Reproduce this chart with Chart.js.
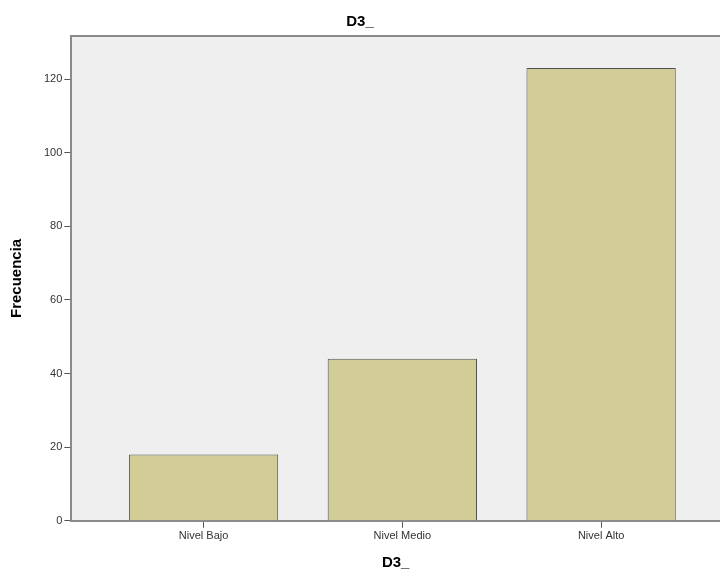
<!DOCTYPE html>
<html>
<head>
<meta charset="utf-8">
<script src="https://cdn.jsdelivr.net/npm/chart.js@4.4.1/dist/chart.umd.min.js"></script>
<style>
  html, body { margin: 0; padding: 0; background: #ffffff; overflow: hidden; }
  #wrap { width: 720px; height: 575px; }
</style>
</head>
<body>
<div id="wrap"><canvas id="chart" width="720" height="575"></canvas></div>
<script>
// Chart data
const categories = ['Nivel Bajo', 'Nivel Medio', 'Nivel Alto'];
const frecuencias = [18, 44, 123];
const chartTitle = 'D3_';
const xTitle = 'D3_';
const yTitle = 'Frecuencia';

const FONT = "'Liberation Sans', Arial, sans-serif";
const AXIS_GREY = '#8a8a8a';

// grey plot background + top border, like SPSS output
const plotBackground = {
    id: 'plotBackground',
    beforeDraw(chart) {
        const { ctx, chartArea } = chart;
        ctx.save();
        ctx.fillStyle = '#efefef';
        ctx.fillRect(chartArea.left, chartArea.top, chartArea.right - chartArea.left, chartArea.bottom - chartArea.top);
        ctx.strokeStyle = AXIS_GREY;
        ctx.lineWidth = 2;
        ctx.beginPath();
        ctx.moveTo(chartArea.left - 1, chartArea.top);
        ctx.lineTo(chartArea.right, chartArea.top);
        ctx.stroke();
        ctx.restore();
    }
};

const ctx = document.getElementById('chart').getContext('2d');
new Chart(ctx, {
    type: 'bar',
    data: {
        datasets: [{
            label: 'Frecuencia',
            data: frecuencias.map((v, i) => ({ x: i, y: v })),
            backgroundColor: '#d2cd97',
            borderColor: '#505050',
            borderWidth: 1,
            categoryPercentage: 1,
            barPercentage: 0.751
        }]
    },
    options: {
        responsive: false,
        animation: false,
        layout: { padding: { left: 0, right: 0, top: 0, bottom: 1 } },
        plugins: {
            legend: { display: false },
            tooltip: { enabled: false },
            title: {
                display: true,
                text: chartTitle,
                color: '#000',
                font: { family: FONT, size: 15, weight: 'bold' },
                padding: { top: 13, bottom: 5 }
            }
        },
        scales: {
            x: {
                type: 'linear',
                offset: false,
                min: -0.665,
                max: 2.598,
                afterBuildTicks: (axis) => { axis.ticks = categories.map((c, i) => ({ value: i })); },
                ticks: {
                    callback: (v) => categories[v],
                    color: '#333',
                    font: { family: FONT, size: 11 },
                    padding: 2,
                    maxRotation: 0
                },
                grid: { offset: false, drawOnChartArea: false, drawTicks: true, tickLength: 7, color: '#555' },
                border: { display: true, color: AXIS_GREY, width: 2 },
                title: {
                    display: true,
                    text: xTitle,
                    color: '#000',
                    font: { family: FONT, size: 15, weight: 'bold' },
                    padding: { top: 9, bottom: 2 }
                }
            },
            y: {
                min: 0,
                max: 131.7,
                afterBuildTicks: (axis) => { axis.ticks = axis.ticks.filter(t => t.value % 20 === 0); },
                ticks: {
                    stepSize: 20,
                    color: '#333',
                    font: { family: FONT, size: 11 },
                    padding: 2
                },
                grid: { drawOnChartArea: false, drawTicks: true, tickLength: 7, color: '#555' },
                border: { display: true, color: AXIS_GREY, width: 2 },
                title: {
                    display: true,
                    text: yTitle,
                    color: '#000',
                    font: { family: FONT, size: 15, weight: 'bold' },
                    padding: { top: 8, bottom: 16 }
                }
            }
        }
    },
    plugins: [plotBackground]
});
</script>
</body>
</html>
